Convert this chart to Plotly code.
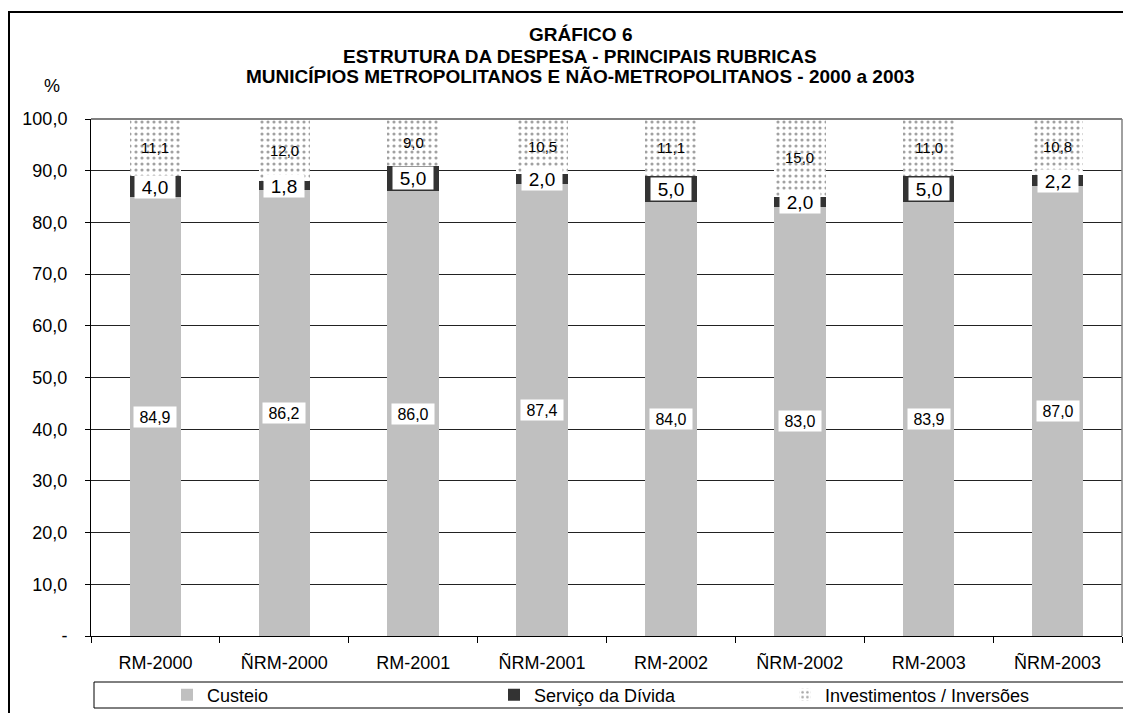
import plotly.graph_objects as go

categories = ["RM-2000", "ÑRM-2000", "RM-2001", "ÑRM-2001", "RM-2002", "ÑRM-2002", "RM-2003", "ÑRM-2003"]
custeio = [84.9, 86.2, 86.0, 87.4, 84.0, 83.0, 83.9, 87.0]
servico = [4.0, 1.8, 5.0, 2.0, 5.0, 2.0, 5.0, 2.2]
investimentos = [11.1, 12.0, 9.0, 10.5, 11.1, 15.0, 11.0, 10.8]
ytick_vals = [0, 10, 20, 30, 40, 50, 60, 70, 80, 90, 100]
ytick_text = ["-", "10,0", "20,0", "30,0", "40,0", "50,0", "60,0", "70,0", "80,0", "90,0", "100,0"]
title_lines = ["GRÁFICO 6", "ESTRUTURA DA DESPESA - PRINCIPAIS RUBRICAS",
               "MUNICÍPIOS METROPOLITANOS E NÃO-METROPOLITANOS - 2000 a 2003"]

FONT = "Liberation Sans, Arial, sans-serif"
OFF = 8  # page body margin
W, H = 1131 - OFF, 713 - OFF
L, R, T, B = 91 - OFF, 1122 - OFF, 119 - OFF, 636 - OFF
PW, PH = R - L, B - T


def px(x):
    return (x - OFF - L) / PW


def py(y):
    return (B - (y - OFF)) / PH


def fmt(v):
    return f"{v:.1f}".replace(".", ",")


fig = go.Figure()
fig.add_trace(go.Bar(name="Custeio", x=categories, y=custeio, marker_color="#C0C0C0",
                     marker_line_width=0, width=0.4, legend="legend"))
fig.add_trace(go.Bar(name="Serviço da Dívida", x=categories, y=servico, marker_color="#333333",
                     marker_line_width=0, width=0.4, legend="legend2"))
fig.add_trace(go.Bar(name="Investimentos / Inversões", x=categories, y=investimentos,
                     marker=dict(color="white", line_width=0,
                                 pattern=dict(shape=".", fgcolor="#444444", bgcolor="white",
                                              size=6, solidity=0.22)),
                     width=0.4, legend="legend3"))

annotations = []
for i, c in enumerate(categories):
    annotations.append(dict(x=c, y=custeio[i] / 2, text=fmt(custeio[i]), showarrow=False,
                            font=dict(family=FONT, size=16, color="black"), bgcolor="white",
                            width=40, height=18, xanchor="center", yanchor="middle"))
    annotations.append(dict(x=c, y=custeio[i] + servico[i] / 2, text=fmt(servico[i]), showarrow=False,
                            font=dict(family=FONT, size=19, color="black"), bgcolor="white",
                            width=38, height=20, xanchor="center", yanchor="middle"))
    annotations.append(dict(x=c, y=custeio[i] + servico[i] + investimentos[i] / 2,
                            text=fmt(investimentos[i]), showarrow=False,
                            font=dict(family=FONT, size=15, color="black"),
                            xanchor="center", yanchor="middle"))

for k, (line, ypx) in enumerate(zip(title_lines, [35, 56, 77])):
    annotations.append(dict(xref="paper", yref="paper", x=px(580), y=py(ypx), text=f"<b>{line}</b>",
                            showarrow=False, font=dict(family=FONT, size=19, color="black"),
                            xanchor="center", yanchor="middle"))
annotations.append(dict(xref="paper", yref="paper", x=px(52), y=py(86), text="%", showarrow=False,
                        font=dict(family=FONT, size=18, color="black"), xanchor="center", yanchor="middle"))

shapes = [
    # outer chart border (top/left visible)
    dict(type="rect", xref="paper", yref="paper", x0=px(9), x1=px(1160), y0=py(760), y1=py(12),
         line=dict(color="black", width=2), layer="above"),
    # plot area top and right
    dict(type="line", xref="paper", yref="paper", x0=0, x1=1, y0=1, y1=1,
         line=dict(color="#808080", width=2), layer="above"),
    dict(type="line", xref="paper", yref="paper", x0=1, x1=1, y0=0, y1=1,
         line=dict(color="#808080", width=1.5), layer="above"),
    # legend box
    dict(type="rect", xref="paper", yref="paper", x0=px(94), x1=px(1160), y0=py(708), y1=py(682),
         line=dict(color="black", width=1), layer="above"),
]

leg_common = dict(orientation="h", xanchor="left", yanchor="middle", y=py(695),
                  bgcolor="rgba(0,0,0,0)", borderwidth=0,
                  font=dict(family=FONT, size=18, color="black"), itemwidth=30)

fig.update_layout(
    width=W, height=H,
    margin=dict(l=L, r=W - R, t=T, b=H - B, autoexpand=False),
    barmode="stack",
    plot_bgcolor="white", paper_bgcolor="white",
    font=dict(family=FONT, size=18, color="black"),
    showlegend=True,
    legend=dict(x=px(167), **leg_common),
    legend2=dict(x=px(494), **leg_common),
    legend3=dict(x=px(785), **leg_common),
    xaxis=dict(showline=True, linecolor="black", linewidth=1, ticks="outside", tickson="boundaries",
               ticklen=6, tickcolor="black", showgrid=False, ticklabelstandoff=10,
               tickfont=dict(family=FONT, size=18, color="black")),
    yaxis=dict(range=[0, 100], tickvals=ytick_vals, ticktext=ytick_text, showline=True,
               linecolor="black", linewidth=1, ticks="outside", ticklen=5, tickcolor="black",
               showgrid=True, gridcolor="#222222", gridwidth=1, zeroline=False,
               ticklabelstandoff=14, tickfont=dict(family=FONT, size=18, color="black")),
    annotations=annotations,
    shapes=shapes,
)

fig.write_html("out.html")
